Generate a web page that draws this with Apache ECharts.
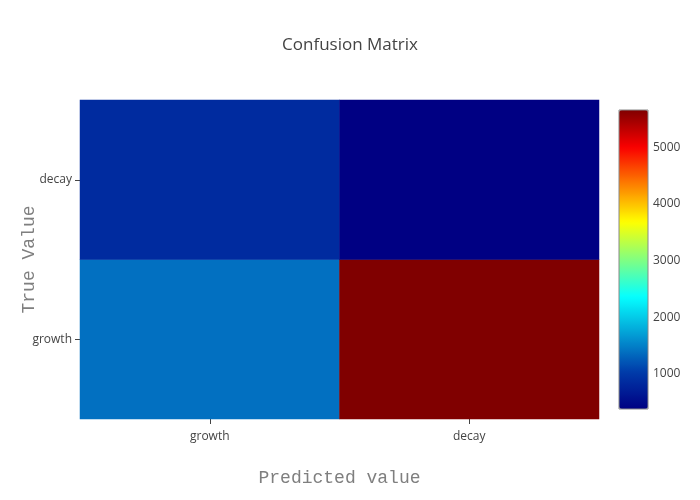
<!DOCTYPE html>
<html>
<head>
<meta charset="utf-8">
<script src="https://cdn.jsdelivr.net/npm/echarts@6/dist/echarts.min.js"></script>
<style>html,body{margin:0;padding:0;background:#fff}#c{width:700px;height:500px}</style>
</head>
<body>
<div id="c"></div>
<script>
var predictedLabels = ['growth', 'decay'];
var trueLabels = ['growth', 'decay'];
// rows: true value (growth, decay); columns: predicted (growth, decay)
var rowGrowth = [1390, 5658];
var rowDecay = [850, 377];
var colorbarTicks = [1000, 2000, 3000, 4000, 5000];
var zMin = 377, zMax = 5658;
var jet = ['rgb(0,0,131)', 'rgb(0,60,170)', 'rgb(3,158,213)', 'rgb(5,255,255)', 'rgb(130,255,128)', 'rgb(255,255,0)', 'rgb(253,128,0)', 'rgb(250,0,0)', 'rgb(128,0,0)'];

var data = [];
[rowGrowth, rowDecay].forEach(function (row, yi) {
  row.forEach(function (v, xi) { data.push([xi, yi, v]); });
});

var font = '"Open Sans", sans-serif';
var chart = echarts.init(document.getElementById('c'), null, {renderer: 'canvas'});
chart.setOption({
  animation: false,
  backgroundColor: '#fff',
  title: {
    text: 'Confusion Matrix', left: 'center', top: 32,
    textStyle: {fontFamily: font, fontSize: 17, fontWeight: 'normal', color: '#444'}
  },
  grid: [
    {left: 80, right: 101, top: 100, bottom: 81, outerBoundsMode: 'none', containLabel: false},
    {left: 619, top: 110, width: 29, height: 299, show: true, z: 10, outerBoundsMode: 'none', containLabel: false,
     backgroundColor: 'transparent', borderColor: '#888', borderWidth: 1}
  ],
  xAxis: [
    {type: 'category', data: predictedLabels, gridIndex: 0,
     axisLine: {show: false}, splitLine: {show: false},
     axisTick: {show: true, alignWithLabel: true, length: 5, lineStyle: {color: '#444'}},
     axisLabel: {fontFamily: font, fontSize: 12, color: '#444', margin: 12},
     name: 'Predicted value', nameLocation: 'middle', nameGap: 50, nameMoveOverlap: false,
     nameTextStyle: {fontFamily: '"Liberation Mono", "Courier New", monospace', fontSize: 18, color: '#7f7f7f'}},
    {type: 'value', gridIndex: 1, show: false, min: 0, max: 1}
  ],
  yAxis: [
    {type: 'category', data: trueLabels, gridIndex: 0,
     axisLine: {show: false}, splitLine: {show: false},
     axisTick: {show: true, alignWithLabel: true, length: 5, lineStyle: {color: '#444'}},
     axisLabel: {fontFamily: font, fontSize: 12, color: '#444', margin: 8},
     name: 'True Value', nameLocation: 'middle', nameGap: 42, nameRotate: 90, nameMoveOverlap: false,
     nameTextStyle: {fontFamily: '"Liberation Mono", "Courier New", monospace', fontSize: 18, color: '#7f7f7f'}},
    {type: 'value', gridIndex: 1, position: 'right', min: zMin, max: zMax,
     axisLine: {show: false}, axisTick: {show: false}, splitLine: {show: false},
     axisLabel: {customValues: colorbarTicks, fontFamily: font, fontSize: 12, color: '#444', margin: 5,
       formatter: function (v) { return String(v); }}}
  ],
  visualMap: {
    type: 'continuous', min: zMin, max: zMax, seriesIndex: 0,
    calculable: false, orient: 'vertical', left: 619, top: 110, padding: 0,
    itemWidth: 29, itemHeight: 299, text: null, showLabel: false,
    inRange: {color: jet}
  },
  series: [{
    type: 'heatmap', xAxisIndex: 0, yAxisIndex: 0, data: data,
    itemStyle: {borderWidth: 0}, emphasis: {disabled: true}
  }]
});
</script>
</body>
</html>
